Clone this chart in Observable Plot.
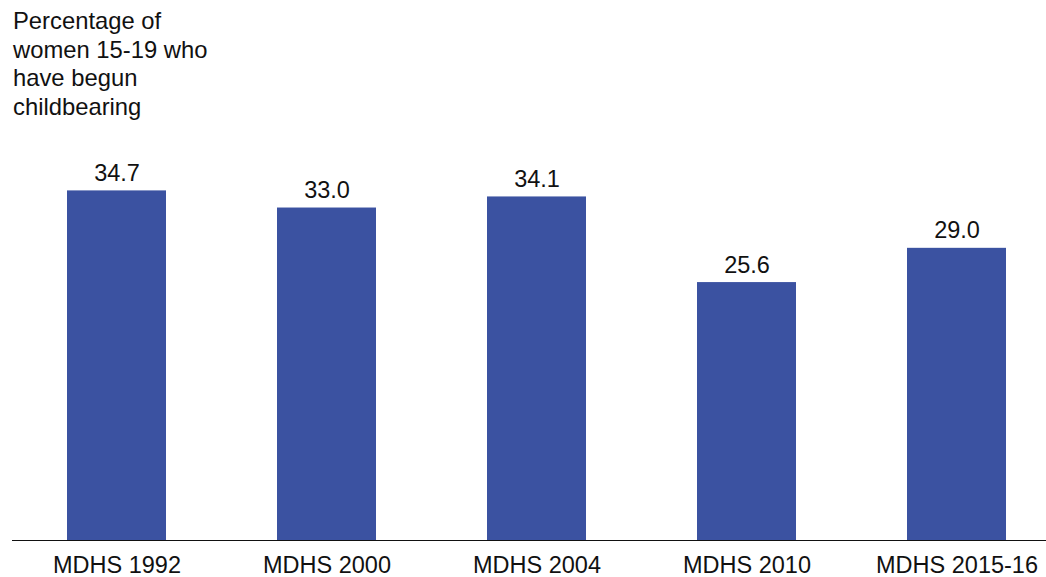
<!DOCTYPE html>
<html>
<head>
<meta charset="utf-8">
<script src="https://cdn.jsdelivr.net/npm/d3@7"></script>
<script src="https://cdn.jsdelivr.net/npm/@observablehq/plot@0.6"></script>
<style>
  html, body { margin: 0; padding: 0; background: #fff; }
  #wrap { position: relative; width: 1046px; height: 577px; font-family: "Liberation Sans", Arial, sans-serif; }
  #title { position: absolute; left: 13px; top: 7px; font-size: 23.8px; line-height: 28.5px; color: #111; }
</style>
</head>
<body>
<div id="wrap">
  <div id="title">Percentage of<br>women 15-19 who<br>have begun<br>childbearing</div>
  <div id="chart"></div>
</div>
<script>
// Survey rounds and the share of women 15-19 who have begun childbearing
const surveys = ["MDHS 1992", "MDHS 2000", "MDHS 2004", "MDHS 2010", "MDHS 2015-16"];
const percents = [34.7, 33.0, 34.1, 25.6, 29.0];
const labels = ["34.7", "33.0", "34.1", "25.6", "29.0"];

const rows = surveys.map((s, i) => ({survey: s, value: percents[i], label: labels[i]}));

const chart = Plot.plot({
  width: 1046,
  height: 577,
  marginLeft: 12,
  marginRight: 0,
  marginTop: 137,
  marginBottom: 37,
  style: {fontFamily: "'Liberation Sans', Arial, sans-serif", fontSize: "23.5px", color: "#111", background: "transparent"},
  x: {domain: surveys, paddingInner: 0.529, paddingOuter: 0.226, align: 0.579, label: null, tickSize: 0, tickPadding: 16},
  y: {domain: [0, 40], axis: null},
  marks: [
    Plot.barY(rows, {x: "survey", y: "value", fill: "#3b52a1"}),
    Plot.text(rows, {x: "survey", y: "value", text: "label", lineAnchor: "bottom", dy: -10, fontSize: 23.5, fill: "#111"}),
    Plot.ruleY([0], {stroke: "#111", strokeWidth: 1.2})
  ]
});
document.getElementById("chart").appendChild(chart);
</script>
</body>
</html>
